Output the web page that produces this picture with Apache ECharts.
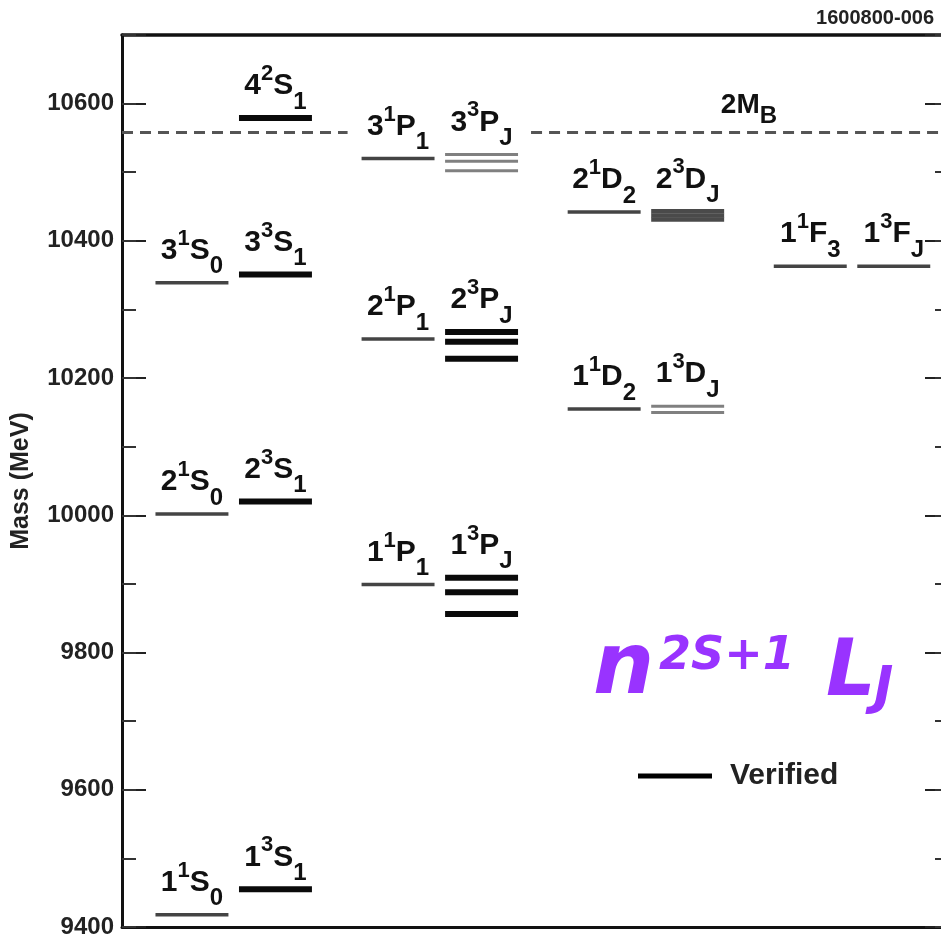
<!DOCTYPE html>
<html>
<head>
<meta charset="utf-8">
<script src="https://cdn.jsdelivr.net/npm/echarts@6/dist/echarts.min.js"></script>
<style>
  html, body { margin: 0; padding: 0; background: #fff; overflow: hidden; }
  #main { width: 960px; height: 939px; }
</style>
</head>
<body>
<div id="main"></div>
<script>
// bottomonium levels, masses (MeV)
const termN      = ['1','1','2','2','3','3','4','1','1','2','2','3','3','1','1','2','2','1','1'];
const termMult   = ['1','3','1','3','1','3','2','1','3','1','3','1','3','1','3','1','3','1','3'];
const termL      = ['S','S','S','S','S','S','S','P','P','P','P','P','P','D','D','D','D','F','F'];
const termJ      = ['0','1','0','1','0','1','1','1','J','1','J','1','J','2','J','2','J','3','J'];
const termMasses = [[9418],[9455],[10002],[10020],[10339],[10351],[10579],
                    [9899],[9909,9888,9856],[10257],[10267,10253,10228],[10520],[10526,10516,10502],
                    [10155],[10159,10150],[10442],[10443,10437,10431],
                    [10363],[10363]];
const termStatus = ['singlet','verified','singlet','verified','singlet','verified','verified',
                    'singlet','verified','singlet','verified','singlet','light',
                    'singlet','light','singlet','dark',
                    'singlet','singlet'];
const orbitals = ['S','P','D','F'];
const thresholdLabel = ['2M', 'B'];
const thresholdMass = [10558];
const massMin = 9400, massMax = 10700, majorStep = 200, minorStep = 100;
const legendName = 'Verified';

const FONT = '"Liberation Sans", Arial, sans-serif';
const PURPLE_FONT = '"DejaVu Sans", Verdana, sans-serif';
const X_MIN = -0.542, X_MAX = 3.4706;
const OFFSET = 0.2026;   // singlet / triplet shift from orbital centre
const HALF = 0.177;      // half length of a level line
const lineStyles = {
  verified: { stroke: '#0a0a0a', lineWidth: 6 },
  singlet:  { stroke: '#444', lineWidth: 3.5 },
  light:    { stroke: '#808080', lineWidth: 3 },
  dark:     { stroke: '#4a4a4a', lineWidth: 4.5 }
};

function colX(i) {
  return orbitals.indexOf(termL[i]) + (termMult[i] === '1' ? -OFFSET : OFFSET);
}

const verifiedData = [], otherData = [], labelData = [];
termMasses.forEach((ms, i) => {
  ms.forEach(m => {
    if (termStatus[i] === 'verified') verifiedData.push([colX(i), m, i]);
    else otherData.push([colX(i), m, i]);
  });
  labelData.push([colX(i), Math.max.apply(null, ms), i]);
});

function levelItem(params, api) {
  const i = api.value(2), m = api.value(1), x = api.value(0);
  const a = api.coord([x - HALF, m]), b = api.coord([x + HALF, m]);
  return {
    type: 'line',
    shape: { x1: a[0], y1: a[1], x2: b[0], y2: b[1] },
    style: Object.assign({}, lineStyles[termStatus[i]])
  };
}

const RICH = {
  n:  { fontSize: 30, lineHeight: 30, fontWeight: 'bold', verticalAlign: 'bottom', padding: [0, 0, 13, 0] },
  up: { fontSize: 22, lineHeight: 22, fontWeight: 'bold', verticalAlign: 'bottom', padding: [0, 0, 29, 0] },
  dn: { fontSize: 24, lineHeight: 24, fontWeight: 'bold', verticalAlign: 'bottom', padding: [0, 0, 0, 0] }
};

function purple(text, x, y, size) {
  return { type: 'text', x: x, y: y, style: { text: text, fontFamily: PURPLE_FONT, fontSize: size,
    fontStyle: 'italic', fontWeight: 'bold', fill: '#9933ff', align: 'left', verticalAlign: 'middle' } };
}

const chart = echarts.init(document.getElementById('main'));
chart.setOption({
  animation: false,
  backgroundColor: '#fff',
  grid: { left: 122, top: 35, width: 827, height: 893 },
  xAxis: [
    { type: 'value', position: 'bottom', min: X_MIN, max: X_MAX,
      axisLine: { show: true, onZero: false, lineStyle: { color: '#111', width: 3 } },
      axisTick: { show: false }, axisLabel: { show: false }, splitLine: { show: false } },
    { type: 'value', position: 'top', min: X_MIN, max: X_MAX,
      axisLine: { show: true, onZero: false, lineStyle: { color: '#111', width: 3.5 } },
      axisTick: { show: false }, axisLabel: { show: false }, splitLine: { show: false } }
  ],
  yAxis: [
    { type: 'value', position: 'left', min: massMin, max: massMax, interval: majorStep,
      name: 'Mass (MeV)', nameLocation: 'middle', nameRotate: 90, nameGap: 88,
      nameTextStyle: { fontFamily: FONT, fontSize: 25, fontWeight: 'bold', color: '#222' },
      axisLine: { show: true, onZero: false, lineStyle: { color: '#111', width: 3 } },
      axisTick: { show: true, inside: true, length: 24, lineStyle: { color: '#222', width: 2 } },
      axisLabel: { margin: 8, fontFamily: FONT, fontSize: 24, fontWeight: 'bold', color: '#222',
        formatter: v => (v % majorStep === 0 ? String(v) : '') },
      splitLine: { show: false } },
    { type: 'value', position: 'left', min: massMin, max: massMax, interval: minorStep,
      axisLine: { show: false, onZero: false },
      axisTick: { show: true, inside: true, length: 14, lineStyle: { color: '#333', width: 2 } },
      axisLabel: { show: false }, splitLine: { show: false } },
    { type: 'value', position: 'right', min: massMin, max: massMax, interval: majorStep,
      axisLine: { show: true, onZero: false, lineStyle: { color: '#111', width: 3 } },
      axisTick: { show: true, inside: true, length: 24, lineStyle: { color: '#222', width: 2 } },
      axisLabel: { show: false }, splitLine: { show: false } },
    { type: 'value', position: 'right', min: massMin, max: massMax, interval: minorStep,
      axisLine: { show: false, onZero: false },
      axisTick: { show: true, inside: true, length: 14, lineStyle: { color: '#333', width: 2 } },
      axisLabel: { show: false }, splitLine: { show: false } }
  ],
  legend: {
    data: [legendName], left: 638, top: 761, padding: 0, icon: 'rect', itemWidth: 74, itemHeight: 5,
    textStyle: { fontFamily: FONT, fontSize: 30, fontWeight: 'bold', color: '#222', padding: [0, 0, 0, 13] }
  },
  graphic: [
    { type: 'text', x: 934, y: 18, style: { text: '1600800-006', fontFamily: FONT, fontSize: 20,
        fontWeight: 'bold', fill: '#222', align: 'right', verticalAlign: 'middle' } },
    purple('n', 593, 671, 86),
    purple('2S+1', 659, 657, 46),
    purple('L', 826, 675, 78),
    purple('J', 874, 689, 52)
  ],
  series: [
    { // 2 M_B threshold, broken around the P-wave column
      type: 'custom', name: 'threshold', silent: true,
      data: thresholdMass.map(m => [m]),
      encode: { y: 0 },
      renderItem(params, api) {
        const m = api.value(0);
        const left = api.coord([X_MIN, m]), right = api.coord([X_MAX, m]);
        const pL = api.coord([1 - OFFSET - HALF, m])[0] - 14;
        const pR = api.coord([1 + OFFSET + HALF, m])[0] + 13;
        const lab = api.coord([2.5, m]);
        const ds = { stroke: '#555', lineWidth: 3, lineDash: [11, 7] };
        return { type: 'group', children: [
          { type: 'line', shape: { x1: left[0], y1: left[1], x2: pL, y2: left[1] }, style: ds },
          { type: 'line', shape: { x1: pR, y1: left[1], x2: right[0], y2: right[1] }, style: ds },
          { type: 'text', x: lab[0], y: lab[1] - 4, style: {
              text: '{n|' + thresholdLabel[0] + '}{dn|' + thresholdLabel[1] + '}',
              align: 'center', verticalAlign: 'bottom', fill: '#111', fontFamily: FONT, fontWeight: 'bold',
              rich: {
                n:  { fontSize: 28, lineHeight: 28, fontWeight: 'bold', verticalAlign: 'bottom', padding: [0, 0, 9, 0] },
                dn: { fontSize: 24, lineHeight: 24, fontWeight: 'bold', verticalAlign: 'bottom', padding: [0, 0, 0, 0] }
              } } }
        ] };
      }
    },
    { type: 'custom', name: 'other', silent: true, data: otherData, encode: { x: 0, y: 1 }, renderItem: levelItem },
    { type: 'custom', name: legendName, silent: true, itemStyle: { color: '#000' },
      data: verifiedData, encode: { x: 0, y: 1 }, renderItem: levelItem },
    { type: 'custom', name: 'labels', silent: true, data: labelData, encode: { x: 0, y: 1 },
      renderItem(params, api) {
        const i = api.value(2);
        const p = api.coord([api.value(0), api.value(1)]);
        return { type: 'text', x: p[0], y: p[1] - 4, style: {
          text: '{n|' + termN[i] + '}{up|' + termMult[i] + '}{n|' + termL[i] + '}{dn|' + termJ[i] + '}',
          rich: RICH, align: 'center', verticalAlign: 'bottom', fill: '#111', fontFamily: FONT, fontWeight: 'bold'
        } };
      }
    }
  ]
});
</script>
</body>
</html>
